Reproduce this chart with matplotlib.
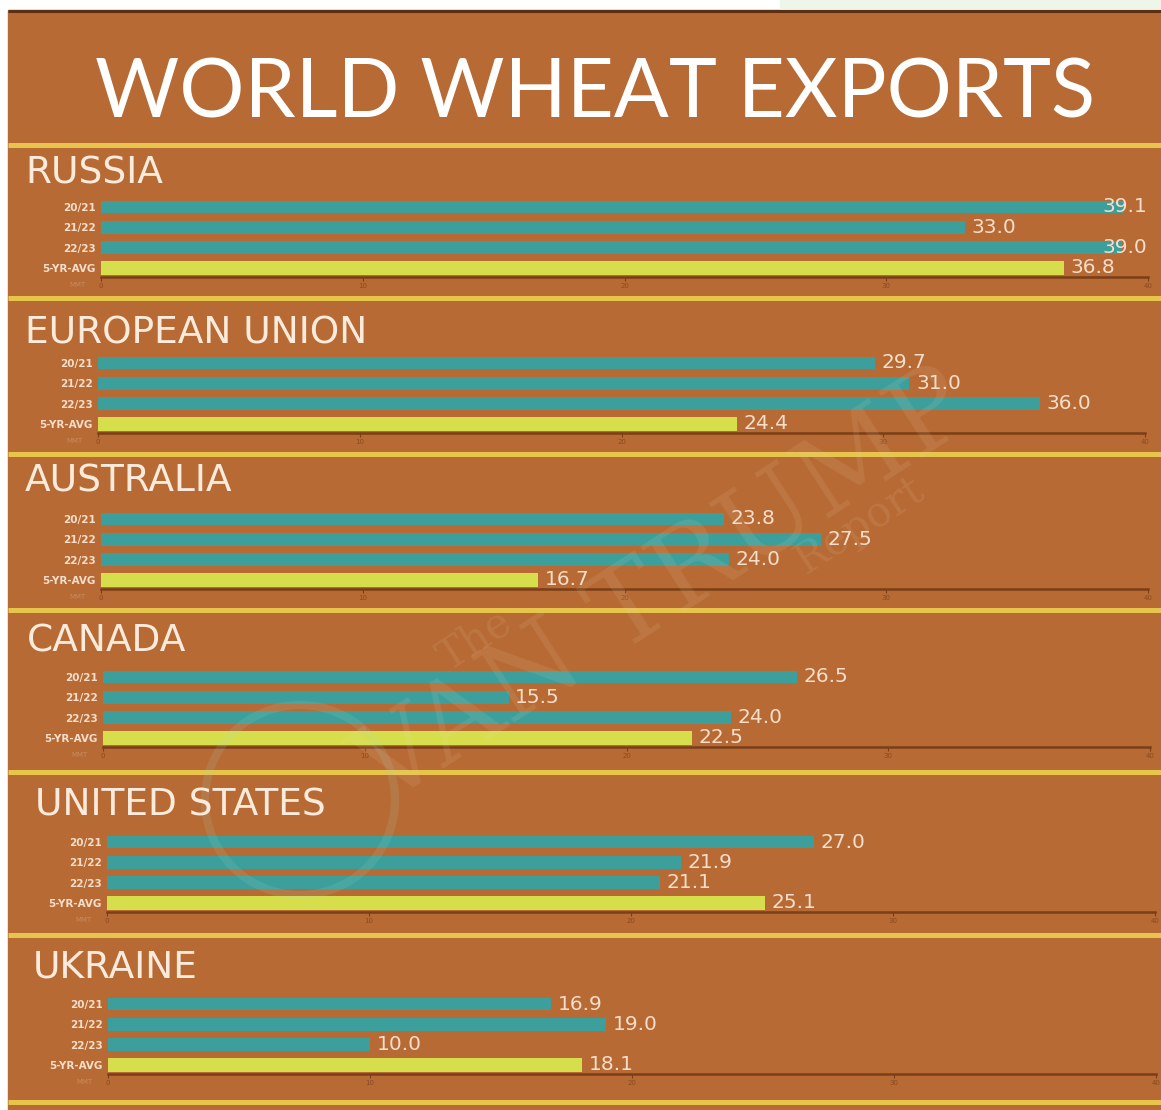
import matplotlib.pyplot as plt
from matplotlib.patches import Rectangle, Circle

# data (million metric tons)
countries = ['RUSSIA', 'EUROPEAN UNION', 'AUSTRALIA', 'CANADA', 'UNITED STATES', 'UKRAINE']
seasons = ['20/21', '21/22', '22/23', '5-YR-AVG']
russia = [39.1, 33.0, 39.0, 36.8]
eu = [29.7, 31.0, 36.0, 24.4]
australia = [23.8, 27.5, 24.0, 16.7]
canada = [26.5, 15.5, 24.0, 22.5]
us = [27.0, 21.9, 21.1, 25.1]
ukraine = [16.9, 19.0, 10.0, 18.1]
xticks = [0, 10, 20, 30, 40]

values = [russia, eu, australia, canada, us, ukraine]

W, H = 1161, 1110
BROWN = '#B76A34'
TEAL = '#3C9F9C'
LIME = '#D6DF4B'
GOLD = '#E7C44C'
DARK = '#7A3E18'
PEACH = '#F6DECB'

# layout in pixels: name baseline, name x, first bar centre, axis left, axis right
panels = [
    (183, 25, 207, 101, 1148),
    (343, 25, 363, 98, 1145),
    (492, 25, 519, 101, 1148),
    (651, 27, 677, 103, 1150),
    (815, 35, 842, 107, 1155),
    (977, 33, 1004, 108, 1156),
]
separators = [145, 298, 454, 610, 772, 935, 1102]
row = 20.3

fig = plt.figure(figsize=(W / 100, H / 100), dpi=100, facecolor='white')

# background in pixel coordinates
bg = fig.add_axes([0, 0, 1, 1])
bg.set_xlim(0, W)
bg.set_ylim(H, 0)
bg.axis('off')
bg.add_patch(Rectangle((8, 10), W - 8, H - 10, color=BROWN, zorder=0))
bg.add_patch(Rectangle((780, 0), W - 780, 10, color='#EEF5EA', zorder=0))
bg.hlines(11, 8, W, color='#5E2E10', lw=2.2)
bg.hlines(separators, 8, W, color=GOLD, lw=3.6)

title = fig.text(595 / W, 1 - 118 / H, 'WORLD WHEAT EXPORTS', ha='center', va='baseline',
                 color='white', fontsize=60, family=['Lato', 'DejaVu Sans'], weight='normal')
fig.canvas.draw()
w = title.get_window_extent().width
title.set_fontsize(60 * 1000 / w)

for name, vals, (nb, nx, c0, x0, x1) in zip(countries, values, panels):
    fig.text(nx / W, 1 - nb / H, name, ha='left', va='baseline', color='#FBEBDD',
             fontsize=27, family='DejaVu Sans')

    top = c0 - 0.5 * row
    bottom = c0 + 3.45 * row
    ax = fig.add_axes([x0 / W, 1 - bottom / H, (x1 - x0) / W, (bottom - top) / H])
    ax.set_facecolor('none')
    ax.barh(range(3), vals[:3], height=0.62, color=TEAL)
    ax.barh([3], vals[3:], height=0.66, color=LIME)
    for i, v in enumerate(vals):
        # long bars: label sits over the bar end, as in the original
        ax.text(min(v + 0.25, 38.25), i, f'{v:.1f}', va='center', ha='left',
                color=PEACH, fontsize=14.5)

    ax.set_xlim(0, 40)
    ax.set_ylim(3.45, -0.5)
    ax.set_yticks(range(4), seasons)
    ax.set_xticks(xticks)
    for s in ['top', 'right', 'left']:
        ax.spines[s].set_visible(False)
    ax.spines['bottom'].set_color(DARK)
    ax.spines['bottom'].set_linewidth(1.8)
    ax.tick_params(axis='y', length=0, labelsize=7.5, labelcolor=PEACH, pad=4)
    ax.tick_params(axis='x', length=3, color=DARK, labelsize=5, labelcolor='#8A4A20', pad=1)
    for lbl in ax.get_yticklabels():
        lbl.set_fontweight('bold')
    ax.text(-0.6, -0.06, 'MMT', transform=ax.get_xaxis_transform(), ha='right', va='top',
            fontsize=5, color='#C98A5E')

# faint watermark on top
wm = fig.add_axes([0, 0, 1, 1])
wm.set_xlim(0, W)
wm.set_ylim(H, 0)
wm.axis('off')
wm.text(665, 590, 'VAN TRUMP', rotation=33, ha='center', va='center', fontsize=78,
        color='#F0D8BC', alpha=0.11, family='DejaVu Serif')
wm.text(475, 640, 'The', rotation=33, ha='center', va='center', fontsize=30,
        color='#F0D8BC', alpha=0.11, family='DejaVu Serif')
wm.text(860, 525, 'Report', rotation=33, ha='center', va='center', fontsize=30,
        color='#F0D8BC', alpha=0.11, family='DejaVu Serif')
wm.add_patch(Circle((300, 800), 95, fill=False, ec='#A8D8C8', lw=6, alpha=0.13))

plt.savefig('out.png', dpi=100, facecolor=fig.get_facecolor())
